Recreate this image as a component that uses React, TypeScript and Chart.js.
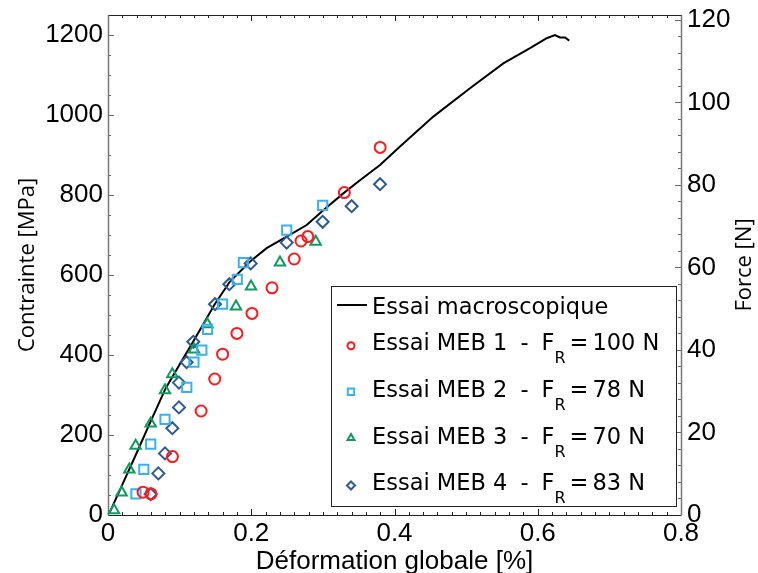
import React, { useEffect, useRef } from 'react';
import { Chart, registerables } from 'chart.js';

Chart.register(...registerables);

// ---- Data ----
const macroStrain = [0.0018, 0.02, 0.04, 0.06, 0.0806, 0.1, 0.12, 0.135, 0.149, 0.17, 0.198, 0.2215, 0.2495, 0.2774, 0.3006, 0.3285, 0.3518, 0.3798, 0.4077, 0.4542, 0.5054, 0.5519, 0.5892, 0.6125, 0.624, 0.631, 0.638, 0.644];
const macroStress = [4, 76, 155, 236, 317, 376, 437, 483, 527, 583, 633, 667, 696, 725, 762, 804, 837, 875, 921, 996, 1067, 1129, 1167, 1192, 1200, 1194, 1194, 1186];

const meb1Strain = [0.049, 0.06, 0.09, 0.13, 0.149, 0.16, 0.18, 0.201, 0.229, 0.26, 0.2695, 0.279, 0.33, 0.38];
const meb1Stress = [57, 53, 146, 260, 340, 402, 454, 504, 568, 640, 685, 696, 806, 919];

const meb2Strain = [0.039, 0.05, 0.0596, 0.0796, 0.11, 0.12, 0.131, 0.139, 0.16, 0.1805, 0.189, 0.2495, 0.2997];
const meb2Stress = [53, 114, 177, 239, 319, 382, 412, 464, 527, 589, 631, 712, 774];

const meb3Strain = [0.0084, 0.019, 0.0298, 0.0386, 0.0596, 0.0796, 0.0898, 0.12, 0.1387, 0.1787, 0.1997, 0.2401, 0.29];
const meb3Stress = [12, 56, 114, 173, 229, 312, 352, 414, 477, 521, 571, 631, 683];

const meb4Strain = [0.0596, 0.0703, 0.0796, 0.0898, 0.0991, 0.0991, 0.1098, 0.1191, 0.1494, 0.1694, 0.1992, 0.2495, 0.2997, 0.3402, 0.3798];
const meb4Stress = [52, 104, 154, 217, 269, 331, 382, 433, 527, 577, 629, 681, 733, 772, 827];

const seriesLabels = [
  'Essai macroscopique',
  'Essai MEB 1 - F_R=100 N',
  'Essai MEB 2 - F_R=78 N',
  'Essai MEB 3 - F_R=70 N',
  'Essai MEB 4 - F_R=83 N',
];

const xTickLabels = ['0', '0.2', '0.4', '0.6', '0.8'];
const leftTickLabels = ['0', '200', '400', '600', '800', '1000', '1200'];
const rightTickLabels = ['0', '20', '40', '60', '80', '100', '120'];

const xTitle = 'Déformation globale [%]';
const leftTitle = 'Contrainte [MPa]';
const rightTitle = 'Force [N]';

const pair = (xs: number[], ys: number[]) => xs.map((x, i) => ({ x, y: ys[i] }));

const TICK_FONT = '"Liberation Sans", Arial, sans-serif';
const LEGEND_FONT = '"DejaVu Sans", sans-serif';
const TITLE_FONT = '"Open Sans", sans-serif';

const isMultiple = (v: number, step: number) => Math.abs(v / step - Math.round(v / step)) < 1e-6;

const zeroPad = (s: any) => {
  s.paddingTop = 0;
  s.paddingBottom = 0;
  s.paddingLeft = 0;
  s.paddingRight = 0;
};

function drawMarker(ctx: CanvasRenderingContext2D, style: string, r: number, x: number, y: number) {
  ctx.beginPath();
  if (style === 'circle') {
    ctx.arc(x, y, r, 0, Math.PI * 2);
  } else if (style === 'rect') {
    const s = r * Math.SQRT1_2;
    ctx.rect(x - s, y - s, 2 * s, 2 * s);
  } else if (style === 'triangle') {
    const h = r * 1.5;
    const w = r * Math.sqrt(3);
    ctx.moveTo(x - w / 2, y + h / 3);
    ctx.lineTo(x + w / 2, y + h / 3);
    ctx.lineTo(x, y - (2 * h) / 3);
    ctx.closePath();
  } else {
    ctx.moveTo(x - r, y);
    ctx.lineTo(x, y - r);
    ctx.lineTo(x + r, y);
    ctx.lineTo(x, y + r);
    ctx.closePath();
  }
  ctx.stroke();
}

const framePlugin = {
  id: 'frameTicks',
  beforeDatasetsDraw(chart: any) {
    const { ctx, chartArea: a, scales } = chart;
    ctx.save();
    ctx.lineWidth = 1;
    ctx.strokeStyle = '#222';
    for (const t of scales.x.ticks) {
      const px = Math.round(scales.x.getPixelForValue(t.value)) + 0.5;
      const len = isMultiple(t.value, 0.2) ? 6 : 3;
      ctx.beginPath();
      ctx.moveTo(px, a.bottom);
      ctx.lineTo(px, a.bottom - len);
      ctx.moveTo(px, a.top);
      ctx.lineTo(px, a.top + len);
      ctx.stroke();
    }
    ctx.strokeStyle = '#666';
    for (const t of scales.y.ticks) {
      if (t.value > scales.y.max) continue;
      const py = Math.round(scales.y.getPixelForValue(t.value)) + 0.5;
      const len = isMultiple(t.value, 200) ? 6 : 3;
      ctx.beginPath();
      ctx.moveTo(a.left, py);
      ctx.lineTo(a.left + len, py);
      ctx.stroke();
    }
    for (const t of scales.y2.ticks) {
      if (!isMultiple(t.value, 4)) continue;
      const py = Math.round(scales.y2.getPixelForValue(t.value)) + 0.5;
      const len = isMultiple(t.value, 20) ? 6 : 3;
      ctx.beginPath();
      ctx.moveTo(a.right, py);
      ctx.lineTo(a.right - len, py);
      ctx.stroke();
    }
    const l = Math.round(a.left) + 0.5, r = Math.round(a.right) + 0.5;
    const tp = Math.round(a.top) + 0.5, b = Math.round(a.bottom) + 0.5;
    ctx.strokeStyle = '#222';
    ctx.beginPath();
    ctx.moveTo(l, tp); ctx.lineTo(r, tp);
    ctx.moveTo(l, b); ctx.lineTo(r, b);
    ctx.stroke();
    ctx.strokeStyle = '#777';
    ctx.lineWidth = 1.5;
    ctx.beginPath();
    ctx.moveTo(l, tp); ctx.lineTo(l, b);
    ctx.moveTo(r, tp); ctx.lineTo(r, b);
    ctx.stroke();
    ctx.restore();
  },
  afterDraw(chart: any) {
    const { ctx, chartArea: a } = chart;
    ctx.save();
    ctx.translate(745, (a.top + a.bottom) / 2);
    ctx.rotate(-Math.PI / 2);
    ctx.font = `22px ${TITLE_FONT}`;
    ctx.fillStyle = '#000';
    ctx.textAlign = 'center';
    ctx.textBaseline = 'middle';
    ctx.fillText(rightTitle, 0, 0);
    ctx.restore();

    const bx = a.left + 223, by = a.top + 271, bw = 345, bh = 220;
    ctx.save();
    ctx.fillStyle = '#fff';
    ctx.fillRect(bx, by, bw, bh);
    ctx.strokeStyle = '#222';
    ctx.lineWidth = 1;
    ctx.strokeRect(Math.round(bx) + 0.5, Math.round(by) + 0.5, bw, bh);
    const textX = bx + 41;
    const baselines = [28, 64, 110.7, 157.5, 204];
    const markerYs = [19, 59.7, 105.7, 152, 199.5];
    const mainFont = `22.5px ${LEGEND_FONT}`;
    const subFont = `16px ${LEGEND_FONT}`;
    chart.data.datasets.forEach((ds: any, i: number) => {
      const base = by + baselines[i];
      const my = by + markerYs[i];
      ctx.strokeStyle = ds.borderColor;
      ctx.lineWidth = 2;
      if (i === 0) {
        ctx.beginPath();
        ctx.moveTo(bx + 6, my);
        ctx.lineTo(bx + 36, my);
        ctx.stroke();
      } else {
        drawMarker(ctx, ds.pointStyle, ds.legendRadius, bx + 20, my);
      }
      ctx.fillStyle = '#000';
      ctx.textBaseline = 'alphabetic';
      ctx.textAlign = 'left';
      const label: string = ds.label;
      ctx.font = mainFont;
      if (label.indexOf('_') < 0) {
        ctx.fillText(label, textX, base);
        return;
      }
      const m = label.match(/^(.*?)\s-\s(F)_(R)=(.*)$/);
      if (!m) { ctx.fillText(label, textX, base); return; }
      let x = textX;
      const put = (s: string, font: string, dy: number, gapAfter: number) => {
        ctx.font = font;
        ctx.fillText(s, x, base + dy);
        x += ctx.measureText(s).width + gapAfter;
      };
      put(m[1], mainFont, 0, 13);
      put('-', mainFont, 0, 13);
      put(m[2], mainFont, 0, 0);
      put(m[3], subFont, 13, 4);
      put('=', mainFont, 0, 4);
      put(m[4], mainFont, 0, 0);
    });
    ctx.restore();
  },
};

export default function App() {
  const canvasRef = useRef<HTMLCanvasElement | null>(null);

  useEffect(() => {
    const canvas = canvasRef.current;
    if (!canvas) return;
    const chart = new Chart(canvas, {
      type: 'scatter',
      data: {
        datasets: [
          {
            type: 'line',
            label: seriesLabels[0],
            data: pair(macroStrain, macroStress),
            borderColor: '#000',
            borderWidth: 2,
            pointRadius: 0,
            tension: 0,
            fill: false,
            order: 10,
            clip: false,
          } as any,
          {
            label: seriesLabels[1],
            data: pair(meb1Strain, meb1Stress),
            pointStyle: 'circle',
            pointRadius: 5.5,
            borderWidth: 2,
            borderColor: '#ff1a1a',
            backgroundColor: 'rgba(0,0,0,0)',
            legendRadius: 3.5,
            order: 1,
            clip: false,
          },
          {
            label: seriesLabels[2],
            data: pair(meb2Strain, meb2Stress),
            pointStyle: 'rect',
            pointRadius: 6.5,
            borderWidth: 2,
            borderColor: '#38b2ef',
            backgroundColor: 'rgba(0,0,0,0)',
            legendRadius: 4.5,
            order: 2,
            clip: false,
          },
          {
            label: seriesLabels[3],
            data: pair(meb3Strain, meb3Stress),
            pointStyle: 'triangle',
            pointRadius: 6,
            borderWidth: 2,
            borderColor: '#119a60',
            backgroundColor: 'rgba(0,0,0,0)',
            legendRadius: 4,
            order: 3,
            clip: false,
          },
          {
            label: seriesLabels[4],
            data: pair(meb4Strain, meb4Stress),
            pointStyle: 'rectRot',
            pointRadius: 6,
            borderWidth: 2,
            borderColor: '#2d5a94',
            backgroundColor: 'rgba(0,0,0,0)',
            legendRadius: 4,
            order: 4,
            clip: false,
          },
        ] as any,
      },
      options: {
        animation: false,
        responsive: false,
        layout: { padding: { top: 15, left: 0, right: 0, bottom: 0 } },
        plugins: {
          legend: { display: false },
          tooltip: { enabled: false },
        },
        scales: {
          x: {
            type: 'linear',
            min: 0,
            max: 0.8,
            grid: { display: false, drawTicks: false },
            border: { display: false },
            ticks: {
              stepSize: 0.02,
              autoSkip: false,
              maxRotation: 0,
              padding: 3,
              color: '#000',
              font: { family: TICK_FONT, size: 26 },
              callback: (v: any) => (isMultiple(Number(v), 0.2) ? xTickLabels[Math.round(Number(v) / 0.2)] : ''),
            },
            title: {
              display: true,
              text: xTitle,
              color: '#000',
              font: { family: TICK_FONT, size: 26, lineHeight: 1 },
              padding: { top: 0, bottom: -2 },
            },
            afterFit: (s: any) => { s.height = 58; zeroPad(s); },
          },
          y: {
            type: 'linear',
            position: 'left',
            min: 0,
            max: 1250,
            grid: { display: false, drawTicks: false },
            border: { display: false },
            ticks: {
              stepSize: 50,
              autoSkip: false,
              padding: 5,
              color: '#000',
              font: { family: TICK_FONT, size: 26 },
              callback: (v: any) => (isMultiple(Number(v), 200) ? leftTickLabels[Math.round(Number(v) / 200)] : ''),
            },
            title: {
              display: true,
              text: leftTitle,
              color: '#000',
              font: { family: TITLE_FONT, size: 22, lineHeight: 1.2 },
              padding: { top: 15, bottom: 0 },
            },
            afterFit: (s: any) => { s.width = 108; zeroPad(s); },
          },
          y2: {
            type: 'linear',
            position: 'right',
            min: 0,
            max: 121.2,
            grid: { display: false, drawTicks: false },
            border: { display: false },
            afterBuildTicks: (s: any) => {
              s.ticks = s.ticks.filter((t: any) => isMultiple(t.value, 4));
              const last = s.ticks[s.ticks.length - 1];
              if (!last || last.value < 120) s.ticks.push({ value: 120 });
            },
            ticks: {
              stepSize: 4,
              autoSkip: false,
              padding: 6,
              color: '#000',
              font: { family: TICK_FONT, size: 26 },
              callback: (v: any) => (isMultiple(Number(v), 20) ? rightTickLabels[Math.round(Number(v) / 20)] : ''),
            },
            afterFit: (s: any) => { s.width = 77; zeroPad(s); },
          },
        },
      } as any,
      plugins: [framePlugin],
    });
    return () => chart.destroy();
  }, []);

  return (
    <div style={{ position: 'absolute', left: 0, top: 0, width: 758, height: 573, background: '#fff' }}>
      <canvas ref={canvasRef} width={758} height={573} style={{ display: 'block' }} />
    </div>
  );
}
